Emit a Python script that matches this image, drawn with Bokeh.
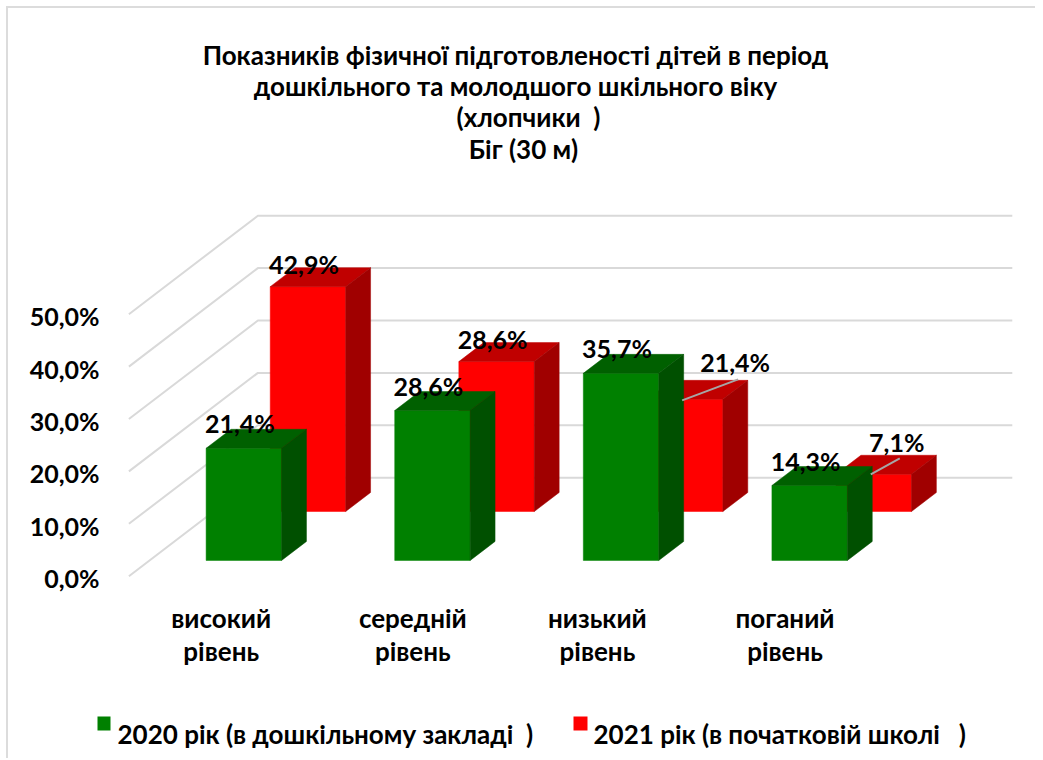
from bokeh.plotting import figure
from bokeh.embed import file_html
from bokeh.resources import INLINE
from bokeh.models import (ColumnDataSource, Range1d, FixedTicker, LinearAxis)
from bokeh.core.properties import value

# ---- data ----
categories = ["високий\nрівень", "середній\nрівень", "низький\nрівень", "поганий\nрівень"]
series_2020 = [21.4, 28.6, 35.7, 14.3]
series_2021 = [42.9, 28.6, 21.4, 7.1]
labels_2020 = ["21,4%", "28,6%", "35,7%", "14,3%"]
labels_2021 = ["42,9%", "28,6%", "21,4%", "7,1%"]
y_ticks = [0, 10, 20, 30, 40, 50]
y_tick_labels = ["0,0%", "10,0%", "20,0%", "30,0%", "40,0%", "50,0%"]
series_names = ["2020 рік (в дошкільному закладі\u00a0\u00a0)",
                "2021 рік (в початковій школі\u00a0\u00a0\u00a0)"]
title_lines = ["Показників фізичної підготовленості дітей в період",
               "дошкільного та молодшого шкільного віку",
               "(хлопчики\u00a0\u00a0)",
               "Біг (30 м)"]

FONT = "Lato"
GREEN = ("#008000", "#006000", "#005000")
RED = ("#ff0000", "#c00000", "#a00000")
GRID = "#d9d9d9"

# ---- projection: slot units horizontally, percent vertically ----
PX_X, PX_Y = 188.6, 5.24          # pixels per slot / per percent
DEPTH_X, DEPTH_Y = 129 / PX_X, 98.5 / PX_Y   # oblique offset of the full floor depth
X0_PX, Y0_PX = 222.7, 575.7       # reference position of category 0, value 0, depth 0
FRAME = (95, 1035, 8, 758)        # frame edges in reference pixels
BAR_W = 0.4
DEPTHS = {"2020": (0.16, 0.353), "2021": (0.657, 0.85)}


def data_x(px):
    return (px - X0_PX) / PX_X


def data_y(px):
    return (Y0_PX - px) / PX_Y


def proj(x, d, v):
    return x + d * DEPTH_X, v + d * DEPTH_Y


def box(i, v, d0, d1):
    l, r = i - BAR_W / 2, i + BAR_W / 2
    def poly(pts):
        xy = [proj(*p) for p in pts]
        return [a for a, _ in xy], [b for _, b in xy]
    return (poly([(l, d0, 0), (r, d0, 0), (r, d0, v), (l, d0, v)]),
            poly([(l, d0, v), (r, d0, v), (r, d1, v), (l, d1, v)]),
            poly([(r, d0, 0), (r, d1, 0), (r, d1, v), (r, d0, v)]))


p = figure(width=1027, height=750, output_backend="svg", toolbar_location=None,
           x_range=Range1d(data_x(FRAME[0]), data_x(FRAME[1])),
           y_range=Range1d(data_y(FRAME[3]), data_y(FRAME[2])),
           x_axis_location=None, y_axis_location=None,
           frame_width=FRAME[1] - FRAME[0], frame_height=FRAME[3] - FRAME[2],
           min_border_left=FRAME[0] - 8, min_border_top=0, min_border_right=0,
           min_border_bottom=0)
p.outline_line_color = None
p.grid.visible = False
p.styles = {"border-left": "2px solid #dcdcdc", "border-top": "2px solid #dcdcdc",
            "margin-left": "6px", "margin-top": "6px"}

# value axis, on a range nudged so that its labels sit as in the reference
LABEL_NUDGE = 2 / PX_Y
p.extra_y_ranges = {"ticks": Range1d(data_y(FRAME[3]) + LABEL_NUDGE, data_y(FRAME[2]) + LABEL_NUDGE)}
ya = LinearAxis(y_range_name="ticks", ticker=FixedTicker(ticks=y_ticks),
                major_label_overrides=dict(zip(y_ticks, y_tick_labels)),
                axis_line_color=None, major_tick_line_color=None, minor_tick_line_color=None,
                major_label_text_font=FONT, major_label_text_font_style="bold",
                major_label_text_color="#000000", major_label_text_font_size="25px",
                major_label_standoff=-10)
p.add_layout(ya, "left")

# gridlines: floor/left-wall diagonals and back wall
n = len(categories)
for t in y_ticks:
    a = proj(-0.5, 0, t)
    b = proj(-0.5, 1, t)
    c = proj(n - 0.5, 1, t)
    p.line([a[0], b[0], c[0]], [a[1], b[1], c[1]], line_color=GRID, line_width=2)

# bars
def draw(vals, colors, depth):
    rends = []
    for face, col in enumerate(colors):
        xs, ys = [], []
        for i, v in enumerate(vals):
            poly = box(i, v, *depth)[face]
            xs.append(poly[0]); ys.append(poly[1])
        rends.append(p.patches(xs, ys, fill_color=col, line_color=col, line_width=0.5))
    return rends

r21 = draw(series_2021, RED, DEPTHS["2021"])
r20 = draw(series_2020, GREEN, DEPTHS["2020"])

# leader lines for the two moved labels
def top_center(i, v, depth):
    return proj(i, depth[0], v)

for i, (sx, sy, ex, ey) in {2: (-3, 1, 53, -20), 3: (-3, -0, 26, -16)}.items():
    x0, y0 = top_center(i, series_2021[i], DEPTHS["2021"])
    p.line([x0 + sx / PX_X, x0 + ex / PX_X], [y0 - sy / PX_Y, y0 - ey / PX_Y],
           line_color="#a6a6a6", line_width=2)

# data labels
lx, ly, lt, ox, oy = [], [], [], [], []
moved = {(1, 2): (50, -37), (1, 3): (23, -32)}
default = {0: (-4, -25), 1: (-4, -23)}
for s, (vals, txt, key) in enumerate(((series_2020, labels_2020, "2020"), (series_2021, labels_2021, "2021"))):
    for i, v in enumerate(vals):
        x, y = top_center(i, v, DEPTHS[key])
        dx, dy = moved.get((s, i), default[s])
        lx.append(x); ly.append(y); lt.append(txt[i]); ox.append(dx); oy.append(dy)
p.text(x="x", y="y", text="t", x_offset="ox", y_offset="oy",
       source=ColumnDataSource(dict(x=lx, y=ly, t=lt, ox=ox, oy=oy)),
       text_font=value(FONT), text_font_style="bold", text_font_size="25px",
       text_align="center", text_baseline="middle", text_color="#000000")

# category labels under the floor
p.text(x=list(range(n)), y=[data_y(634)] * n, text=categories,
       x_offset=[-2, 1, -3, -4],
       text_font=value(FONT), text_font_style="bold", text_font_size="26px",
       text_align="center", text_baseline="middle", text_line_height=1.03, text_color="#000000")

# title
p.text(x=[data_x(515)] * 4, y=[data_y(v) for v in (54, 85, 116, 148)], text=title_lines,
       x_offset=[0, 0, 13, 8],
       text_font=value(FONT), text_font_style="bold", text_font_size="26px",
       text_align="center", text_baseline="middle", text_color="#000000")

# legend
for name, col, (m0, m1), tx in zip(series_names, (GREEN[0], RED[0]), ((97, 110), (573, 587)), (117, 593)):
    p.quad(left=[data_x(m0)], right=[data_x(m1)], bottom=[data_y(730)], top=[data_y(716)],
           fill_color=col, line_color=None)
    p.text(x=[data_x(tx)], y=[data_y(733)], text=[name],
           text_font=value(FONT), text_font_style="bold", text_font_size="26px",
           text_align="left", text_baseline="middle", text_color="#000000")

open("out.html", "w").write(file_html(p, INLINE))
